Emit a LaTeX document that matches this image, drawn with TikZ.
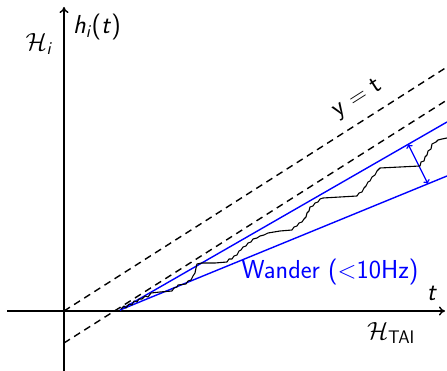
\documentclass[tikz,border=0pt]{standalone}
\usepackage{amsmath}
\usetikzlibrary{arrows.meta}
\newcommand\sfi[1]{\textsf{\textit{#1}}}
\tikzset{
  axis/.style={line width=1.4pt,-{To[length=6pt,width=9pt]}},
  guide/.style={line width=1.4pt,dash pattern=on 7pt off 5pt},
  bound/.style={blue,line width=1.4pt},
  walk/.style={black,line width=1.1pt,line join=round},
  lbl/.style={font=\fontsize{26}{30}\selectfont\sffamily,inner sep=1pt},
}
\begin{document}
\begin{tikzpicture}[x=1pt,y=-1pt]
\useasboundingbox (0,0) rectangle (447,371);
% axes
\coordinate (vb) at (64,371);
\coordinate (vt) at (64,7);
\coordinate (hl) at (7,311);
\coordinate (hr) at (445,311);
\draw[axis] (vb) -- (vt);
\draw[axis] (hl) -- (hr);
% dashed guides
\coordinate (o) at (64,311);
\coordinate (d1e) at (447,67);
\coordinate (d2s) at (64,343);
\coordinate (d2e) at (447,100);
\draw[guide] (o) -- (d1e);
\draw[guide] (d2s) -- (d2e);
% blue bounds
\coordinate (bs) at (120,310);
\coordinate (bu) at (447,122);
\coordinate (bl) at (447,176);
\draw[bound] (bs) -- (bu);
\draw[bound] (bs) -- (bl);
\coordinate (au) at (408,144);
\coordinate (al) at (428,184);
\draw[bound,line width=1.2pt,{To[length=4pt,width=7pt]}-{To[length=4pt,width=7pt]}] (au) -- (al);
% wander path
\draw[walk] (121,309) -- (124,306) -- (126,308) -- (129,304) -- (132,305) -- (134,301) -- (137,302) -- (139,299) -- (142,299) -- (145,296) -- (148,297) -- (151,293) -- (160,292) -- (172,291) -- (174,288) -- (177,287) -- (178,285) -- (186,284) -- (188,281) -- (191,280) -- (193,276) -- (195,273) -- (196,268) -- (197,264) -- (202,263) -- (215,263) -- (227,262) -- (229,259) -- (232,259) -- (234,256) -- (237,255) -- (239,251) -- (241,250) -- (243,247) -- (246,246) -- (248,243) -- (251,242) -- (253,239) -- (257,238) -- (260,236) -- (264,235) -- (268,233) -- (280,231) -- (292,230) -- (294,227) -- (297,226) -- (299,223) -- (302,222) -- (304,219) -- (306,217) -- (307,213) -- (309,211) -- (310,207) -- (313,206) -- (315,203) -- (318,202) -- (320,199) -- (323,198) -- (340,197) -- (357,196) -- (359,193) -- (362,192) -- (364,188) -- (366,186) -- (368,182) -- (370,181) -- (372,177) -- (375,175) -- (377,171) -- (380,168) -- (400,167) -- (420,166) -- (421,162) -- (424,161) -- (425,157) -- (427,155) -- (428,151) -- (431,149) -- (432,144) -- (436,142) -- (438,140) -- (442,139) -- (447,138);
% labels
\node[lbl] (Hi) at (39,44) {$\mathcal{H}_{\text{\sfi{i}}}$};
\node[lbl,anchor=west] (hit) at (72,27) {\sfi{h}$_{\text{\sfi{i}}}$(\sfi{t})};
\node[lbl,rotate=32.5] (yt) at (358,99) {y $=$ t};
\node[lbl] (tl) at (432,293) {\sfi{t}};
\node[lbl] (Htai) at (391,333) {$\mathcal{H}_{\text{\sffamily TAI}}$};
\node[lbl,blue] (wander) at (330,272) {Wander ($<$10Hz)};
\end{tikzpicture}
\end{document}
